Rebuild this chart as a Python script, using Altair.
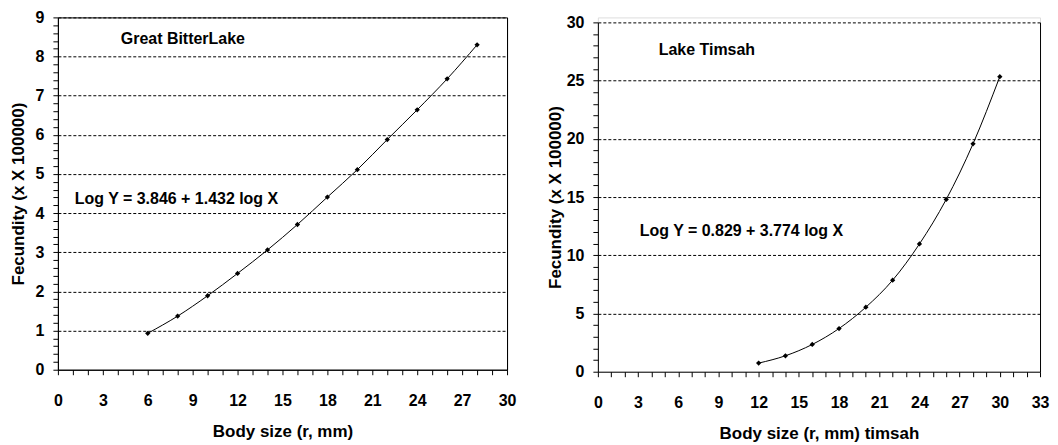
import altair as alt
import pandas as pd

# ---- data ----
# Great Bitter Lake
gbl_size = [6, 8, 10, 12, 14, 16, 18, 20, 22, 24, 26, 28]
gbl_fec = [0.93, 1.37, 1.89, 2.46, 3.06, 3.71, 4.41, 5.11, 5.88, 6.64, 7.43, 8.30]
# Lake Timsah
lt_size = [12, 14, 16, 18, 20, 22, 24, 26, 28, 30]
lt_fec = [0.74, 1.37, 2.34, 3.71, 5.54, 7.86, 10.97, 14.8, 19.57, 25.34]

# annotations (data coordinates)
gbl_note_text = ["Great BitterLake", "Log Y = 3.846 + 1.432 log X"]
gbl_note_x = [4.2, 1.13]
gbl_note_y = [8.44, 4.35]
lt_note_text = ["Lake Timsah", "Log Y = 0.829 + 3.774 log X"]
lt_note_x = [4.54, 3.13]
lt_note_y = [27.6, 12.09]

# axis ticks
gbl_x_ticks = list(range(0, 31))
gbl_y_ticks = [round(i * 0.2, 1) for i in range(46)]
lt_x_ticks = list(range(0, 34))
lt_y_ticks = list(range(0, 31))

y_title = "Fecundity (x X 100000)"
gbl_x_title = "Body size (r, mm)"
lt_x_title = "Body size (r, mm) timsah"

FONT = "Liberation Sans"
INT_TEST = "abs(datum.value - round(datum.value)) < 0.001"


def x_axis(ticks, title):
    return alt.Axis(values=ticks, tickCount=200,
                    labelExpr="datum.value % 3 === 0 ? format(datum.value, 'd') : ''",
                    labelOverlap=False, labelFlush=False, grid=False,
                    tickSize=5, tickColor="black", domainColor="black",
                    labelPadding=18, titlePadding=15,
                    labelFont=FONT, labelFontSize=16, labelFontWeight="bold",
                    labelColor="black", titleFont=FONT, titleFontSize=17,
                    titleFontWeight="bold", titleColor="black", title=title)


def y_axis(ticks, label_test, grid_test, title, title_pad):
    return alt.Axis(values=ticks, tickCount=200,
                    labelExpr=f"{label_test} ? format(datum.value, 'd') : ''",
                    labelOverlap=False, labelFlush=False,
                    grid=True, gridColor="black", gridDash=[3, 2], gridWidth=1,
                    gridOpacity={"condition": {"test": grid_test, "value": 1}, "value": 0},
                    tickSize=5, tickColor="black", domainColor="black",
                    labelPadding=9, titlePadding=title_pad,
                    labelFont=FONT, labelFontSize=16, labelFontWeight="bold",
                    labelColor="black", titleFont=FONT, titleFontSize=17,
                    titleFontWeight="bold", titleColor="black", title=title)


def panel(size, fec, nx, ny, ntext, xdom, ydom, xticks, yticks, xtitle,
          label_test, grid_test, yrange, title_pad):
    df = pd.DataFrame({"size": size, "fec": fec})
    notes = pd.DataFrame({"x": nx, "y": ny, "text": ntext})
    xs = alt.Scale(domain=xdom, nice=False, zero=False)
    if yrange:
        ys = alt.Scale(domain=ydom, nice=False, zero=False, range=yrange)
    else:
        ys = alt.Scale(domain=ydom, nice=False, zero=False)
    xa = x_axis(xticks, xtitle)
    ya = y_axis(yticks, label_test, grid_test, y_title, title_pad)
    line = alt.Chart(df).mark_line(color="black", strokeWidth=1, interpolate="monotone").encode(
        x=alt.X("size:Q", scale=xs, axis=xa),
        y=alt.Y("fec:Q", scale=ys, axis=ya),
    )
    # right-hand frame line drawn as a bare axis on the right
    pya = alt.Axis(orient="right", labels=False, ticks=False, grid=False,
                   title="", domainColor="black")
    pts = alt.Chart(df).mark_point(shape="diamond", filled=True, color="black",
                                   size=28, opacity=1).encode(
        x=alt.X("size:Q", scale=xs, axis=xa),
        y=alt.Y("fec:Q", scale=ys, axis=pya),
    )
    txt = alt.Chart(notes).mark_text(align="left", baseline="middle", font=FONT,
                                     fontSize=16, fontWeight="bold", color="black").encode(
        x=alt.X("x:Q", scale=xs, axis=xa),
        y=alt.Y("y:Q", scale=ys, axis=None),
        text="text:N",
    )
    return alt.layer(line, pts, txt).resolve_axis(y="independent")


left = panel(gbl_size, gbl_fec, gbl_note_x, gbl_note_y, gbl_note_text,
             [0, 30], [0, 9], gbl_x_ticks, gbl_y_ticks, gbl_x_title,
             INT_TEST, INT_TEST + " && datum.value > 0", None, 8
             ).properties(width=450, height=353,
                          view=alt.ViewBackground(stroke="black", strokeWidth=1))

right = panel(lt_size, lt_fec, lt_note_x, lt_note_y, lt_note_text,
              [0, 33], [0, 30], lt_x_ticks, lt_y_ticks, lt_x_title,
              "datum.value % 5 === 0", "datum.value % 5 === 0 && datum.value > 0",
              [355, 5], 2
              ).properties(width=443, height=355)

chart = alt.hconcat(left, right, spacing=28).properties(
    padding={"top": 0, "left": 0, "right": 0, "bottom": 0}
).configure_view(stroke="transparent").configure(background="white")

chart.save("out.html", embed_options={"renderer": "svg", "actions": False})
